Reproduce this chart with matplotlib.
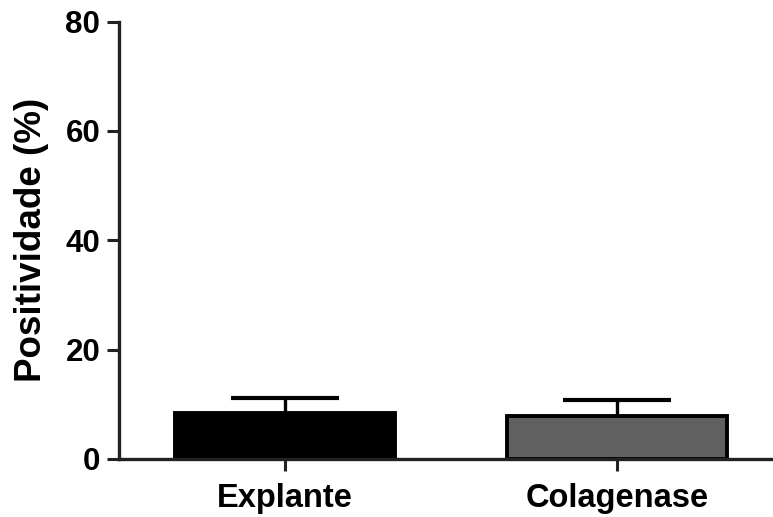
import numpy as np
import matplotlib
matplotlib.use("Agg")
import matplotlib.pyplot as plt

plt.rcParams['font.family'] = ['Liberation Sans', 'DejaVu Sans']
plt.rcParams['font.weight'] = 'bold'

groups = ['Explante', 'Colagenase']
means = [8.4, 7.9]
sem = [2.8, 2.9]
fills = ['#000000', '#606060']

fig = plt.figure(figsize=(7.73, 5.17), dpi=100)
ax = fig.add_axes([0.154, 0.1122, 0.859, 0.846])

x = np.arange(len(groups))
ax.bar(x, means, width=0.66, color=fills, edgecolor='#000000', linewidth=2.8, zorder=2)
# upward-only error bars, lower cap hidden
_, caps, _ = ax.errorbar(x, means, yerr=[np.zeros(len(sem)), sem], fmt='none',
                         ecolor='#000000', elinewidth=2.4, capsize=39, capthick=3.0,
                         zorder=1)
caps[0].set_visible(False)

ax.set_xlim(-0.5, 1.5)
ax.set_ylim(0, 80)
ax.set_yticks([0, 20, 40, 60, 80])
ax.set_xticks(x)
ax.set_xticklabels(groups)

for side in ['top', 'right']:
    ax.spines[side].set_visible(False)
for side in ['left', 'bottom']:
    ax.spines[side].set_linewidth(2.4)
    ax.spines[side].set_color('#222222')

ax.tick_params(axis='y', length=8.5, width=2.2, color='#222222', labelsize=22.5, pad=5)
ax.tick_params(axis='x', length=8.5, width=2.2, color='#222222', labelsize=23.5, pad=9)
for lab in ax.get_xticklabels() + ax.get_yticklabels():
    lab.set_fontweight('bold')

ax.set_ylabel('Positividade (%)', fontsize=26.5, fontweight='bold', labelpad=12)

fig.savefig('out.png', dpi=100)
